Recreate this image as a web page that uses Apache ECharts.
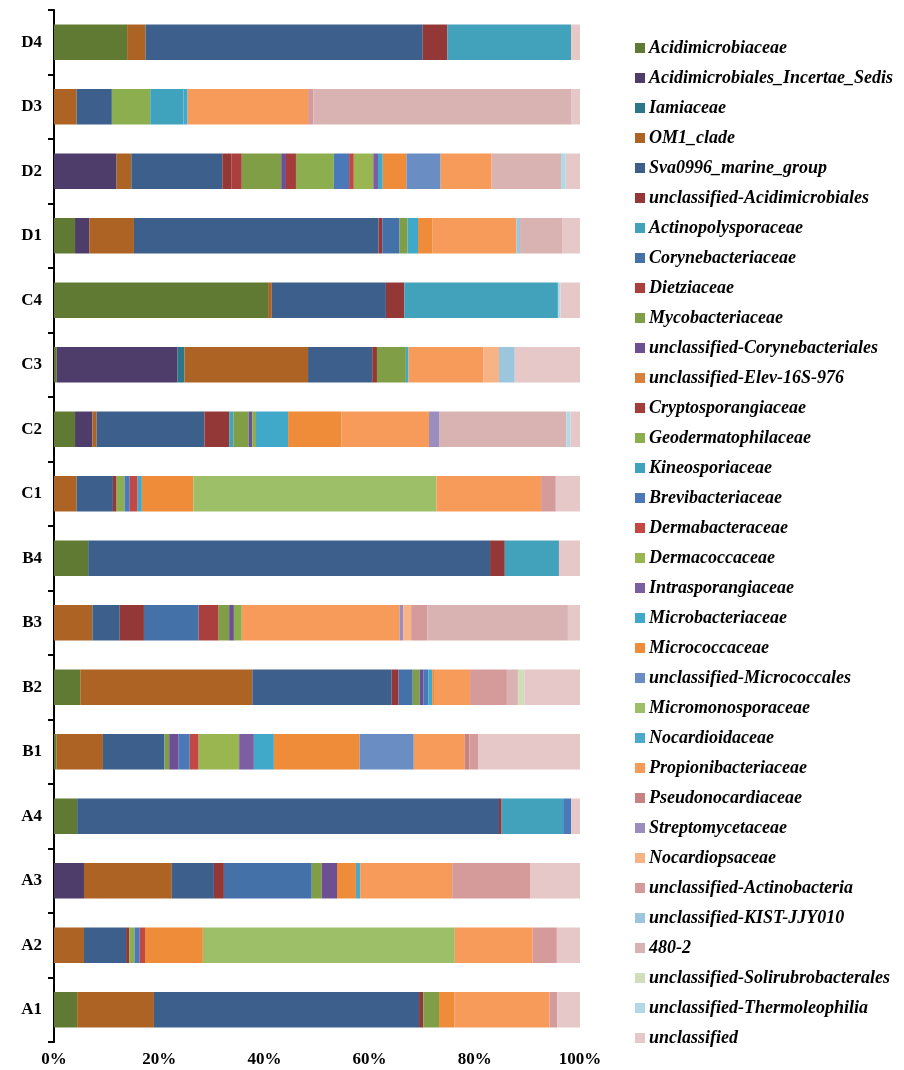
<!DOCTYPE html>
<html>
<head>
<meta charset="utf-8">
<script src="https://cdn.jsdelivr.net/npm/echarts@6/dist/echarts.min.js"></script>
<style>
  html, body { margin: 0; padding: 0; background: #ffffff; }
  #chart { width: 904px; height: 1070px; }
</style>
</head>
<body>
<div id="chart"></div>
<script>
// Samples, bottom to top on the category axis
const samples = ['A1', 'A2', 'A3', 'A4', 'B1', 'B2', 'B3', 'B4', 'C1', 'C2', 'C3', 'C4', 'D1', 'D2', 'D3', 'D4'];

// Actinobacteria families, in stacking order (left to right)
const taxa = [
  'Acidimicrobiaceae', 'Acidimicrobiales_Incertae_Sedis', 'Iamiaceae', 'OM1_clade',
  'Sva0996_marine_group', 'unclassified-Acidimicrobiales', 'Actinopolysporaceae',
  'Corynebacteriaceae', 'Dietziaceae', 'Mycobacteriaceae', 'unclassified-Corynebacteriales',
  'unclassified-Elev-16S-976', 'Cryptosporangiaceae', 'Geodermatophilaceae', 'Kineosporiaceae',
  'Brevibacteriaceae', 'Dermabacteraceae', 'Dermacoccaceae', 'Intrasporangiaceae',
  'Microbacteriaceae', 'Micrococcaceae', 'unclassified-Micrococcales', 'Micromonosporaceae',
  'Nocardioidaceae', 'Propionibacteriaceae', 'Pseudonocardiaceae', 'Streptomycetaceae',
  'Nocardiopsaceae', 'unclassified-Actinobacteria', 'unclassified-KIST-JJY010', '480-2',
  'unclassified-Solirubrobacterales', 'unclassified-Thermoleophilia', 'unclassified'
];

const taxaColors = [
  '#617a33', '#4e3d6b', '#2b7688', '#ad6323', '#3c5f8c', '#933836', '#42a1bb',
  '#4571a9', '#a9403d', '#7f9e46', '#6c5093', '#d9813b', '#a33c3a', '#8cae4f', '#3fa3be',
  '#4a78b8', '#c24845', '#99b650', '#7c5ea3', '#40a8c8', '#ee8c3a', '#6a8dc4', '#9dbf68',
  '#4ba9c9', '#f79b5a', '#c98282', '#9b8dbd', '#f8b385', '#d59b9b', '#9cc6dd', '#d9b3b2',
  '#d2deba', '#b3d9e6', '#e6c8c8'
];

// Relative abundance (%) per sample, one value per taxon in the order above
const A1 = [4.4, 0, 0, 14.6, 50.4, 0.8,   0, 0, 0, 3.0, 0, 0,   0, 0, 0, 0, 0, 0,
            0, 0, 2.9, 0, 0, 0,   18.1, 0, 0, 0, 1.5, 0,   0, 0, 0, 4.3];
const A2 = [0, 0, 0, 5.7, 8.0, 0.6,   0, 0, 0, 0, 0, 0,   0, 1.0, 0, 1.0, 1.0, 0,
            0, 0, 11.0, 0, 47.9, 0,   14.8, 0, 0, 0, 4.6, 0,   0, 0, 0, 4.4];
const A3 = [0, 5.7, 0, 16.7, 8.0, 1.9,   0, 16.7, 0, 1.9, 2.9, 0,   0, 0, 0, 0, 0, 0,
            0, 0, 3.6, 0, 0, 0.8,   17.5, 0, 0, 0, 14.8, 0,   0, 0, 0, 9.5];
const A4 = [4.4, 0, 0, 0, 80.2, 0.5,   11.7, 0, 0, 0, 0, 0,   0, 0, 0, 1.5, 0, 0,
            0, 0, 0, 0, 0, 0,   0, 0, 0, 0, 0, 0,   0, 0, 0, 1.7];
const B1 = [0.5, 0, 0, 8.8, 11.7, 0,   0, 0, 0, 0.9, 1.8, 0,   0, 0, 0, 2.1, 1.7, 7.7,
            2.8, 3.8, 16.3, 10.3, 0, 0,   9.7, 0.9, 0, 0, 1.7, 0,   0, 0, 0, 19.3];
const B2 = [5.0, 0, 0, 32.7, 26.5, 1.3,   0, 2.7, 0, 1.3, 0.7, 0,   0, 0, 0, 1.0, 0, 0,
            0, 0.7, 0.5, 0, 0, 0,   6.7, 0, 0, 0, 7.0, 0,   2.1, 1.2, 0, 10.6];
const B3 = [0, 0, 0, 7.3, 5.2, 4.6,   0, 10.4, 3.8, 2.0, 0.9, 0,   0, 1.5, 0, 0, 0, 0,
            0, 0, 0, 0, 0, 0,   30.0, 0, 0.7, 1.5, 3.1, 0,   26.7, 0, 0, 2.3];
const B4 = [6.5, 0, 0, 0, 76.4, 2.8,   10.3, 0, 0, 0, 0, 0,   0, 0, 0, 0, 0, 0,
            0, 0, 0, 0, 0, 0,   0, 0, 0, 0, 0, 0,   0, 0, 0, 4.0];
const C1 = [0, 0, 0, 4.3, 6.9, 0.7,   0, 0, 0, 0, 0, 0,   0, 1.5, 0, 1.0, 1.5, 0,
            0, 0.8, 9.8, 0, 46.2, 0,   19.9, 0, 0, 0, 2.8, 0,   0, 0, 0, 4.6];
const C2 = [4.0, 3.3, 0, 0.8, 20.5, 4.7,   0.8, 0, 0, 2.9, 0.7, 0,   0, 0.7, 0, 0, 0, 0,
            0, 6.1, 10.1, 0, 0, 0,   16.7, 0, 2.0, 0, 0, 0,   24.1, 0, 0.8, 1.8];
const C3 = [0.5, 23.0, 1.3, 23.5, 12.2, 0.9,   0, 0, 0, 5.5, 0, 0,   0, 0, 0, 0, 0, 0,
            0, 0.5, 0, 0, 0, 0,   14.2, 0, 0, 3.0, 0, 3.0,   0, 0, 0, 12.4];
const C4 = [40.7, 0, 0, 0.7, 21.7, 3.5,   29.2, 0, 0, 0, 0, 0,   0, 0, 0, 0, 0, 0,
            0, 0, 0, 0, 0, 0,   0, 0, 0, 0, 0, 0,   0, 0, 0.5, 3.7];
const D1 = [4.0, 2.7, 0, 8.5, 46.5, 0.7,   0, 3.3, 0, 1.5, 0, 0,   0, 0, 0, 0, 0, 0,
            0, 2.0, 2.7, 0, 0, 0,   16.0, 0, 0, 0, 0, 0.7,   8.1, 0, 0, 3.3];
const D2 = [0, 11.9, 0, 2.8, 17.3, 1.7,   0, 0, 2.0, 7.5, 0.9, 0,   1.9, 7.2, 0, 2.9, 0.9, 3.7,
            0.9, 0.9, 4.5, 6.5, 0, 0,   9.7, 0, 0, 0, 0, 0,   13.2, 0, 0.9, 2.7];
const D3 = [0, 0, 0, 4.3, 6.7, 0,   0, 0, 0, 0, 0, 0,   0, 7.3, 6.3, 0, 0, 0,
            0, 0.8, 0, 0, 0, 0,   22.9, 0, 0, 0, 1.0, 0,   49.0, 0, 0, 1.7];
const D4 = [13.9, 0, 0, 3.5, 52.7, 4.7,   23.5, 0, 0, 0, 0, 0,   0, 0, 0, 0, 0, 0,
            0, 0, 0, 0, 0, 0,   0, 0, 0, 0, 0, 0,   0, 0, 0, 1.7];

const sampleRows = [A1, A2, A3, A4, B1, B2, B3, B4, C1, C2, C3, C4, D1, D2, D3, D4];

const xTicks = [0, 20, 40, 60, 80, 100];

const serif = '"Liberation Serif", "Times New Roman", serif';

const series = taxa.map((name, t) => ({
  name: name,
  type: 'bar',
  stack: 'total',
  barCategoryGap: '45%',
  itemStyle: { color: taxaColors[t] },
  emphasis: { disabled: true },
  data: sampleRows.map(row => row[t])
}));

const chart = echarts.init(document.getElementById('chart'), null, { renderer: 'canvas' });
chart.setOption({
  animation: false,
  backgroundColor: '#ffffff',
  grid: { left: 54, right: 324, top: 10, bottom: 28, containLabel: false },
  xAxis: {
    type: 'value',
    min: xTicks[0],
    max: xTicks[xTicks.length - 1],
    interval: xTicks[1] - xTicks[0],
    axisLine: { show: false },
    axisTick: { show: false },
    splitLine: { show: false },
    axisLabel: {
      formatter: '{value}%',
      color: '#000',
      fontFamily: serif,
      fontWeight: 'bold',
      fontSize: 17,
      margin: 9
    }
  },
  yAxis: {
    type: 'category',
    data: samples,
    axisLine: { show: true, lineStyle: { color: '#000', width: 2 } },
    axisTick: { show: true, length: 6, lineStyle: { color: '#000', width: 2 } },
    axisLabel: {
      color: '#000',
      fontFamily: serif,
      fontWeight: 'bold',
      fontSize: 17,
      margin: 12
    }
  },
  legend: {
    orient: 'vertical',
    left: 630,
    top: 33,
    itemWidth: 10,
    itemHeight: 10,
    itemGap: 10,
    icon: 'rect',
    selectedMode: false,
    data: taxa,
    textStyle: {
      color: '#000',
      fontFamily: serif,
      fontStyle: 'italic',
      fontWeight: 'bold',
      fontSize: 18,
      lineHeight: 20,
      padding: [0, 0, 0, -1]
    }
  },
  series: series
});
</script>
</body>
</html>
